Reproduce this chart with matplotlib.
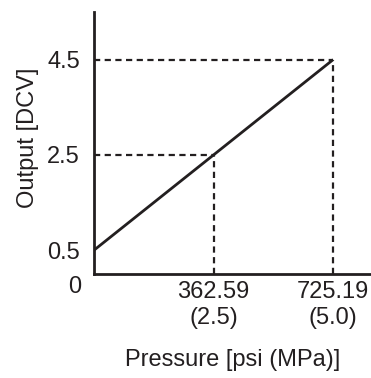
import matplotlib.pyplot as plt

plt.rcParams['font.family'] = ['Liberation Sans', 'DejaVu Sans']

# data
pressure = [0, 725.19]
output = [0.5, 4.5]
mark_x = [362.59, 725.19]
mark_y = [2.5, 4.5]
xtick_labels = ['362.59\n(2.5)', '725.19\n(5.0)']
ytick_vals = [0.5, 2.5, 4.5]
ytick_labels = ['0.5', '2.5', '4.5']

ink = '#231f20'
fs = 17

fig = plt.figure(figsize=(3.71, 3.78), dpi=100)
ax = fig.add_axes([94 / 371, 1 - 274 / 378, 1 - 94 / 371, 262 / 378])

ax.plot(pressure, output, color=ink, lw=2.0, solid_capstyle='butt')

# dashed guide lines
for x, y in zip(mark_x, mark_y):
    ax.plot([0, x], [y, y], color=ink, lw=1.6, dashes=(2.8, 2.0))
    ax.plot([x, x], [0, y], color=ink, lw=1.6, dashes=(2.8, 2.0))

ax.set_xlim(0, 840)
ax.set_ylim(0, 5.5)

ax.set_xticks(mark_x)
ax.set_xticklabels(xtick_labels, linespacing=1.25)
ax.set_yticks(ytick_vals)
ax.set_yticklabels(ytick_labels)
ax.tick_params(length=0, labelsize=fs, colors=ink, pad=5)
ax.tick_params(axis='y', pad=10)

# the origin label sits below the corner
ax.text(-0.069, -0.05, '0', transform=ax.transAxes, fontsize=fs,
        color=ink, ha='center', va='center')

for side in ['top', 'right']:
    ax.spines[side].set_visible(False)
for side in ['left', 'bottom']:
    ax.spines[side].set_linewidth(2.0)
    ax.spines[side].set_color(ink)

ax.set_xlabel('Pressure [psi (MPa)]', fontsize=fs, color=ink, labelpad=14)
ax.set_ylabel('Output [DCV]', fontsize=fs, color=ink)
ax.yaxis.set_label_coords(-0.2, 0.52)

fig.savefig('out.png', dpi=100)
